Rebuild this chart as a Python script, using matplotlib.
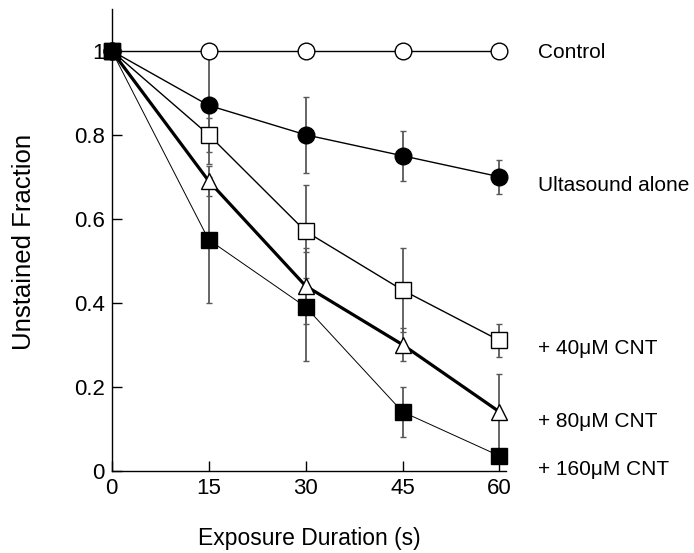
import matplotlib
matplotlib.use("Agg")
import matplotlib.pyplot as plt

plt.rcParams['font.family'] = ['Liberation Sans', 'DejaVu Sans']

# Exposure times (s)
durees = [0, 15, 30, 45, 60]

# Unstained fraction per condition, with error bars
control = [1.0, 1.0, 1.0, 1.0, 1.0]
control_err = [0, 0, 0, 0, 0]
ultrason = [1.0, 0.87, 0.80, 0.75, 0.70]
ultrason_err = [0, 0.14, 0.09, 0.06, 0.04]
cnt40 = [1.0, 0.80, 0.57, 0.43, 0.31]
cnt40_err = [0, 0.04, 0.11, 0.10, 0.04]
cnt80 = [1.0, 0.69, 0.44, 0.30, 0.14]
cnt80_err = [0, 0.035, 0.09, 0.04, 0.09]
cnt160 = [1.0, 0.55, 0.39, 0.14, 0.035]
cnt160_err = [0, 0.15, 0.13, 0.06, 0.0]

noms = ["Control", "Ultasound alone", "+ 40\u03bcM CNT", "+ 80\u03bcM CNT", "+ 160\u03bcM CNT"]
pos_noms = [0.995, 0.68, 0.29, 0.116, 0.002]

y_ticks = [0, 0.2, 0.4, 0.6, 0.8, 1]
y_labels = ["0", "0.2", "0.4", "0.6", "0.8", "1"]

fig = plt.figure(figsize=(6.94, 5.53), dpi=100)
ax = fig.add_axes([0.161, 0.149, 0.568, 0.835])

series = [
    (control, control_err, 'o', 'white', 1.0, 12),
    (ultrason, ultrason_err, 'o', 'black', 1.0, 12),
    (cnt40, cnt40_err, 's', 'white', 1.0, 11),
    (cnt80, cnt80_err, '^', 'white', 2.3, 12),
    (cnt160, cnt160_err, 's', 'black', 0.7, 11.5),
]

for valeurs, erreurs, marqueur, couleur, lw, taille in series:
    ax.errorbar(durees, valeurs, yerr=erreurs, fmt='none', ecolor='0.35',
                elinewidth=1.3, capsize=2.5, capthick=1.0, zorder=1, clip_on=False)
for valeurs, erreurs, marqueur, couleur, lw, taille in series:
    ax.plot(durees, valeurs, color='black', lw=lw, marker=marqueur, ms=taille,
            mfc=couleur, mec='black', mew=1.0, zorder=3, clip_on=False)

# Labels at the right end of each curve
for nom, y in zip(noms, pos_noms):
    ax.text(66, y, nom, fontsize=15, va='center', ha='left', clip_on=False)

ax.set_xlim(0, 61)
ax.set_ylim(0, 1.1)
ax.set_xticks(durees)
ax.set_yticks(y_ticks)
ax.set_yticklabels(y_labels)
ax.tick_params(direction='in', length=7, width=1, labelsize=16, pad=5)

ax.spines['top'].set_visible(False)
ax.spines['right'].set_visible(False)
ax.spines['left'].set_linewidth(1)
ax.spines['bottom'].set_linewidth(1)

ax.set_xlabel("Exposure Duration (s)", fontsize=16.5)
ax.xaxis.set_label_coords(0.5, -0.146)
ax.xaxis.label.set_va('center')
ax.set_ylabel("Unstained Fraction", fontsize=18.5)
ax.yaxis.set_label_coords(-0.222, 0.495)
ax.yaxis.label.set_va('center')

fig.savefig("out.png", dpi=100)
